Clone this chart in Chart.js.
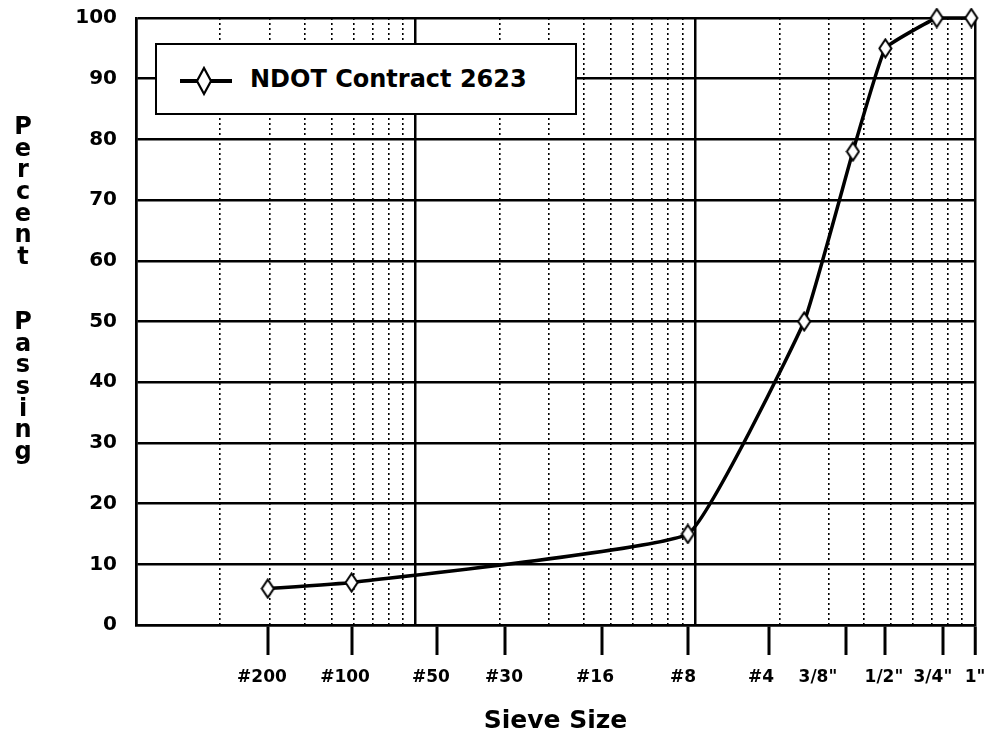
<!DOCTYPE html>
<html>
<head>
<meta charset="utf-8">
<title>NDOT Contract 2623 gradation</title>
<script src="https://cdn.jsdelivr.net/npm/chart.js@4.4.1/dist/chart.umd.min.js"></script>
<style>
    html, body { margin: 0; padding: 0; background: #fff; }
    #wrap { position: relative; width: 999px; height: 742px; }
    #chart { position: absolute; left: 0; top: 0; }
    #ytitle { position: absolute; left: 8px; top: 116px; width: 30px; text-align: center;
              font: bold 24px "DejaVu Sans"; color: #000; }
    #ytitle span { display: block; height: 21.67px; line-height: 21.67px; }
    #ytitle span.gap { height: 43.33px; }
    #legendBox { position: absolute; left: 155px; top: 43px; width: 422px; height: 72px;
                 box-sizing: border-box; border: 2.5px solid #000; background: #fff; }
    #legendBox svg { position: absolute; left: 20px; top: 21px; }
    #legendText { position: absolute; left: 93px; top: 20px; line-height: 30px;
                  font: bold 24px "DejaVu Sans"; color: #000; white-space: nowrap; }
</style>
</head>
<body>
<div id="wrap">
    <canvas id="chart" width="999" height="742"></canvas>
    <div id="ytitle"></div>
    <div id="legendBox">
        <svg width="62" height="32" viewBox="0 0 62 32">
            <line x1="3" y1="15" x2="55" y2="15" stroke="#000" stroke-width="4"/>
            <path d="M27 2 L34 15 L27 28 L20 15 Z" fill="#fff" stroke="#000" stroke-width="2.2"/>
        </svg>
        <span id="legendText"></span>
    </div>
</div>
<script>
// sieve sizes in inches (log axis 0.001 - 1 in): where each tick mark sits, and where its label is centred
var sieveLabels = ["#200", "#100", "#50", "#30", "#16", "#8", "#4", "3/8\"", "1/2\"", "3/4\"", "1\""];
var sieveTickAt = [0.00296, 0.0059, 0.0119, 0.0208, 0.0465, 0.094, 0.183, 0.345, 0.478, 0.77, 1.0];
var sieveLabelAt = [0.00282, 0.00559, 0.01134, 0.0207, 0.0438, 0.0903, 0.1716, 0.2744, 0.4725, 0.7071, 1.0];

// measured gradation
var sampleSizes = [0.00296, 0.0059, 0.094, 0.245, 0.366, 0.478, 0.73, 0.97];
var percentPassing = [6, 7, 15, 50, 78, 95, 100, 100];

var yTicks = [0, 10, 20, 30, 40, 50, 60, 70, 80, 90, 100];
var decades = [0.001, 0.01, 0.1];

var seriesName = "NDOT Contract 2623";
var xTitle = "Sieve Size";
var yTitle = "Percent Passing";

// one tick list for the x axis: grid lines, tick marks and labels
var xTicks = [];
function tickAt(v) {
    var t = xTicks.find(function (t) { return Math.abs(t.value - v) / v < 0.001; });
    if (!t) { t = { value: v, grid: null, mark: false, label: "" }; xTicks.push(t); }
    return t;
}
decades.forEach(function (d) {
    for (var k = 1; k <= 9; k++) tickAt(k * d).grid = k === 1 ? "solid" : "dot";
});
tickAt(1).grid = "solid";
sieveTickAt.forEach(function (v) { tickAt(v).mark = true; });
sieveLabelAt.forEach(function (v, i) { tickAt(v).label = sieveLabels[i]; });
xTicks.sort(function (a, b) { return a.value - b.value; });

// tall open diamond marker
function diamond(w, h) {
    var c = document.createElement("canvas");
    c.width = w; c.height = h;
    var g = c.getContext("2d");
    g.beginPath();
    g.moveTo(w / 2, 1.5); g.lineTo(w - 1.5, h / 2); g.lineTo(w / 2, h - 1.5); g.lineTo(1.5, h / 2);
    g.closePath();
    g.fillStyle = "#fff"; g.fill();
    g.lineWidth = 2; g.strokeStyle = "#000"; g.stroke();
    return c;
}

// y title stacked letters
var yt = document.getElementById("ytitle");
yTitle.split("").forEach(function (ch) {
    var s = document.createElement("span");
    s.textContent = ch;
    if (ch === " ") s.className = "gap";
    yt.appendChild(s);
});
document.getElementById("legendText").textContent = seriesName;

var font = "DejaVu Sans";
var ctx = document.getElementById("chart").getContext("2d");
var chart = new Chart(ctx, {
    type: "line",
    data: {
        datasets: [
            {
                label: seriesName,
                data: sampleSizes.map(function (x, i) { return { x: x, y: percentPassing[i] }; }),
                borderColor: "#000",
                borderWidth: 3.5,
                pointStyle: diamond(15, 21),
                pointRadius: 8,
                tension: 0.1,
                clip: false,
            },
        ],
    },
    options: {
        responsive: false,
        animation: false,
        devicePixelRatio: 1,
        layout: { padding: { top: 18, right: 24, left: 0, bottom: 0 } },
        plugins: {
            legend: { display: false },
            tooltip: { enabled: false },
        },
        scales: {
            x: {
                type: "logarithmic",
                min: 0.001,
                max: 1,
                afterBuildTicks: function (s) {
                    s.ticks = xTicks.map(function (t) { return { value: t.value }; });
                },
                afterFit: function (s) { s.height = 117; },
                ticks: {
                    autoSkip: false,
                    maxRotation: 0,
                    minRotation: 0,
                    padding: 12,
                    color: "#000",
                    font: { family: font, weight: "bold", size: 17 },
                    callback: function (v, i) { return xTicks[i] ? xTicks[i].label : ""; },
                },
                grid: {
                    drawTicks: true,
                    tickLength: 30,
                    color: function (c) { var t = xTicks[c.index]; return t && t.grid ? "#000" : "transparent"; },
                    lineWidth: function (c) {
                        var t = xTicks[c.index];
                        if (!t || !t.grid) return 0;
                        return t.grid === "solid" ? 2.5 : 1.6;
                    },
                    tickColor: function (c) { var t = xTicks[c.index]; return t && t.mark ? "#000" : "transparent"; },
                    tickWidth: function (c) { var t = xTicks[c.index]; return t && t.mark ? 3 : 0; },
                },
                border: {
                    display: true,
                    color: "#000",
                    width: 2.5,
                    dash: function (c) { var t = xTicks[c.index]; return t && t.grid === "dot" ? [2, 3] : []; },
                },
                title: {
                    display: true,
                    text: xTitle,
                    color: "#000",
                    font: { family: font, weight: "bold", size: 25 },
                    padding: { top: 0, bottom: 6 },
                },
            },
            y: {
                min: 0,
                max: 100,
                afterBuildTicks: function (s) {
                    s.ticks = yTicks.map(function (v) { return { value: v }; });
                },
                afterFit: function (s) {
                    s.width = 136;
                    s.paddingTop = 0;
                    s.paddingBottom = 0;
                },
                ticks: {
                    padding: 19,
                    color: "#000",
                    font: { family: font, weight: "bold", size: 20 },
                },
                grid: { color: "#000", lineWidth: 2.5, drawTicks: false },
                border: { color: "#000", width: 2.5 },
            },
        },
    },
});
</script>
</body>
</html>
